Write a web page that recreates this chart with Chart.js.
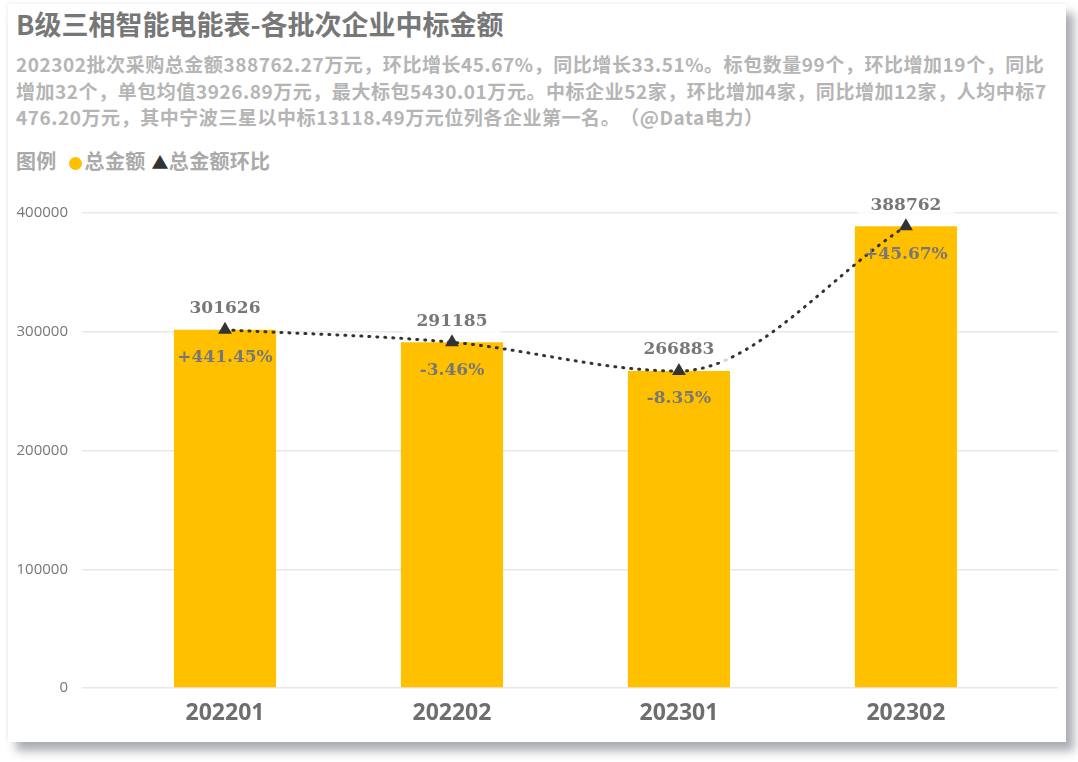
<!DOCTYPE html>
<html>
<head>
<meta charset="utf-8">
<script src="https://cdn.jsdelivr.net/npm/chart.js@4/dist/chart.umd.min.js"></script>
<style>
  body { margin: 0; background: #fff; font-family: "Noto Sans CJK SC", "Noto Sans", sans-serif; }
  .card {
    position: absolute; left: 8px; top: 4px; width: 1058px; height: 738px;
    background: #fff; box-shadow: 8px 9px 9px rgba(70, 76, 90, 0.45), -1px -1px 4px rgba(0,0,0,0.06);
  }
  .title { position: absolute; left: 8px; top: 2px; font-size: 27px; line-height: 36px; font-weight: bold; color: #777; white-space: nowrap; }
  .sub { position: absolute; left: 8px; top: 47px; font-size: 19px; line-height: 26.5px; font-weight: bold; color: #b5b5b5; white-space: nowrap; letter-spacing: 0.55px; text-spacing-trim: space-all; }
  .legend { position: absolute; left: 8px; top: 143px; font-size: 20px; line-height: 28px; font-weight: bold; color: #aaa; white-space: nowrap; letter-spacing: 0.3px; }
  .dot { display: inline-block; width: 13px; height: 13px; border-radius: 50%; background: #FFC000; margin: 0 3px 0 12px; vertical-align: -1px; }
  .tri { color: #333; margin-left: 6px; font-size: 17px; }
  canvas { position: absolute; left: 0; top: 186px; }
</style>
</head>
<body>
<div class="card">
  <div class="title">B级三相智能电能表-各批次企业中标金额</div>
  <div class="sub">202302批次采购总金额388762.27万元，环比增长45.67%，同比增长33.51%。标包数量99个，环比增加19个，同比<br>增加32个，单包均值3926.89万元，最大标包5430.01万元。中标企业52家，环比增加4家，同比增加12家，人均中标7<br>476.20万元，其中宁波三星以中标13118.49万元位列各企业第一名。（@Data电力）</div>
  <div class="legend">图例<span class="dot"></span>总金额<span class="tri">▲</span>总金额环比</div>
  <canvas id="myChart" width="1058" height="538"></canvas>
</div>
<script>
const categories = ["202201", "202202", "202301", "202302"];
const totals = [301626, 291185, 266883, 388762];
const changes = ["+441.45%", "-3.46%", "-8.35%", "+45.67%"];
const yTicks = [0, 100000, 200000, 300000, 400000];

const pointLabels = {
    id: "pointLabels",
    afterDatasetsDraw(chart) {
        const ctx = chart.ctx;
        const meta = chart.getDatasetMeta(1);
        ctx.save();
        ctx.textAlign = "center";
        ctx.textBaseline = "middle";
        meta.data.forEach(function (pt, i) {
            ctx.font = "bold 17px 'DejaVu Serif'";
            const txt = String(totals[i]);
            const w = ctx.measureText(txt).width + 26;
            ctx.fillStyle = "rgba(255,255,255,0.8)";
            ctx.fillRect(pt.x - w / 2, pt.y - 33, w, 24);
            ctx.fillStyle = "#777";
            ctx.fillText(txt, pt.x, pt.y - 21);
            ctx.fillText(changes[i], pt.x, pt.y + 28);
        });
        ctx.restore();
    }
};

new Chart(document.getElementById("myChart"), {
    data: {
        datasets: [{
            type: "bar",
            label: "总金额",
            data: categories.map(function (c, i) { return { x: i, y: totals[i] }; }),
            backgroundColor: "#FFC000",
            barPercentage: 0.45,
            categoryPercentage: 1,
            order: 2
        }, {
            type: "line",
            label: "总金额环比",
            data: categories.map(function (c, i) { return { x: i, y: totals[i] }; }),
            borderColor: "#333",
            borderWidth: 3,
            borderDash: [1, 7],
            borderCapStyle: "round",
            cubicInterpolationMode: "monotone",
            pointStyle: "triangle",
            pointRadius: 8,
            pointBackgroundColor: "#333",
            pointBorderColor: "#333",
            pointBorderWidth: 0,
            order: 1
        }]
    },
    options: {
        responsive: false,
        animation: false,
        layout: { padding: { top: 23, right: 8, left: 0, bottom: 0 } },
        plugins: {
            legend: { display: false },
            tooltip: { enabled: false }
        },
        scales: {
            x: {
                type: "linear",
                offset: false,
                min: -0.63,
                max: 3.67,
                grid: { display: false, offset: false },
                border: { display: false },
                afterBuildTicks: function (scale) {
                    scale.ticks = categories.map(function (c, i) { return { value: i }; });
                },
                afterFit: function (scale) { scale.height = 40; },
                ticks: {
                    padding: 4,
                    color: "#6e6e6e",
                    font: { family: "'Open Sans'", size: 23, weight: "bold" },
                    callback: function (v) { return categories[v]; }
                }
            },
            y: {
                min: 0,
                max: 400000,
                grid: { color: "#e8e8e8", lineWidth: 1.5, drawTicks: false },
                border: { display: false },
                afterBuildTicks: function (scale) {
                    scale.ticks = yTicks.map(function (v) { return { value: v }; });
                },
                afterFit: function (scale) { scale.width = 74; },
                ticks: {
                    padding: 14,
                    color: "#777",
                    font: { family: "'Open Sans'", size: 15 },
                    callback: function (v) { return String(v); }
                }
            }
        }
    },
    plugins: [pointLabels]
});
</script>
</body>
</html>
